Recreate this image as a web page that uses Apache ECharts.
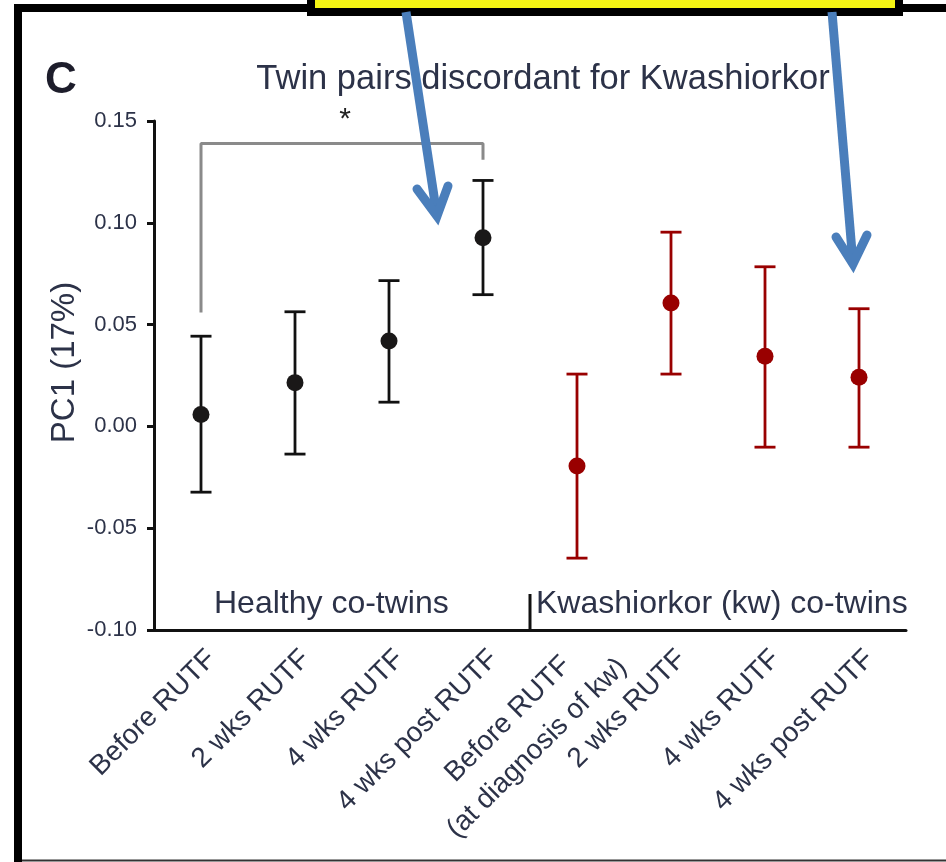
<!DOCTYPE html>
<html><head><meta charset="utf-8">
<script src="https://cdn.jsdelivr.net/npm/echarts/dist/echarts.min.js"></script>
<style>html,body{margin:0;padding:0;background:#fff}#c{width:946px;height:862px}</style>
</head><body><div id="c"></div>
<script>
// ---- data ----
const categories = ['Before RUTF', '2 wks RUTF', '4 wks RUTF', '4 wks post RUTF',
  'Before RUTF\n(at diagnosis of kw)', '2 wks RUTF', '4 wks RUTF', '4 wks post RUTF'];
const healthyIdx = [0, 1, 2, 3];
const healthyMean = [0.0058, 0.0215, 0.0419, 0.0927];
const healthyLow = [-0.0323, -0.0136, 0.0119, 0.0647];
const healthyHigh = [0.0443, 0.0563, 0.0716, 0.1208];
const kwIdx = [4, 5, 6, 7];
const kwMean = [-0.0195, 0.0606, 0.0345, 0.0241];
const kwLow = [-0.0647, 0.0257, -0.0102, -0.0102];
const kwHigh = [0.0257, 0.0954, 0.0784, 0.0578];
const yTickLabels = ['-0.10', '-0.05', '0.00', '0.05', '0.10', '0.15'];
const groupLabels = ['Healthy co-twins', 'Kwashiorkor (kw) co-twins'];
const titleText = 'Twin pairs discordant for Kwashiorkor';
const yName = 'PC1 (17%)';
const panelLetter = 'C';
const sigMark = '*';
const bracketX = [0, 3];
const bracketY = [0.056, 0.139, 0.131];

// ---- styles ----
const TXT = '#2c3248';
const FONT = 'Liberation Sans, Arial, sans-serif';
const BLACK = '#111111';
const RED = '#990000';

function errRender(color) {
  return function (params, api) {
    const x = api.value(0), lo = api.value(1), hi = api.value(2);
    const pLo = api.coord([x, lo]), pHi = api.coord([x, hi]);
    const hw = 10.5;
    const style = { stroke: color, lineWidth: 2.8, fill: null };
    return { type: 'group', children: [
      { type: 'line', shape: { x1: pLo[0], y1: pLo[1], x2: pHi[0], y2: pHi[1] }, style },
      { type: 'line', shape: { x1: pLo[0] - hw, y1: pLo[1], x2: pLo[0] + hw, y2: pLo[1] }, style },
      { type: 'line', shape: { x1: pHi[0] - hw, y1: pHi[1], x2: pHi[0] + hw, y2: pHi[1] }, style }
    ]};
  };
}

const xData = categories.map(c => c.indexOf('\n') >= 0
  ? { value: c, textStyle: { align: 'center', verticalAlign: 'middle', padding: [50, 204, 0, 0] } }
  : c);

const chart = echarts.init(document.getElementById('c'), null, { renderer: 'canvas' });
const option = {
  animation: false,
  backgroundColor: '#ffffff',
  grid: { left: 154, right: 40, top: 121, bottom: 232, outerBoundsMode: 'none', containLabel: false },
  xAxis: {
    type: 'category',
    data: xData,
    boundaryGap: true,
    axisLine: { onZero: false, lineStyle: { color: BLACK, width: 3 } },
    axisTick: { alignWithLabel: true, length: 7, lineStyle: { color: BLACK, width: 3 } },
    axisLabel: {
      interval: 0, rotate: 45, margin: 14, verticalAlign: 'top',
      color: TXT, fontFamily: FONT, fontSize: 28,
      formatter: function (v) {
        const parts = v.split('\n');
        const key = parts.length > 1 ? 'd' : 'c';
        return parts.map(s => '{' + key + '|' + s + '}').join('\n');
      },
      rich: {
        c: { align: 'center', fontFamily: FONT, fontSize: 28, color: TXT, lineHeight: 30 },
        d: { align: 'center', fontFamily: FONT, fontSize: 28, color: TXT, lineHeight: 41 }
      }
    },
    splitLine: { show: false }
  },
  yAxis: {
    type: 'value', min: -0.10, max: 0.15, interval: 0.05,
    name: yName, nameLocation: 'middle', nameGap: 73, nameRotate: 90, nameMoveOverlap: false,
    nameTextStyle: { color: TXT, fontFamily: FONT, fontSize: 33, padding: [0, 0, 0, 26] },
    axisLine: { show: true, onZero: false, lineStyle: { color: BLACK, width: 3 } },
    axisTick: { show: true, length: 7, lineStyle: { color: BLACK, width: 3 } },
    axisLabel: {
      margin: 17, color: TXT, fontFamily: FONT, fontSize: 22,
      formatter: function (v) { const i = Math.round((v + 0.10) / 0.05); return yTickLabels[i]; }
    },
    splitLine: { show: false }
  },
  series: [
    {
      type: 'line', name: 'bracket', silent: true, symbol: 'none', clip: false,
      lineStyle: { color: '#8a8a8a', width: 3 },
      data: [[bracketX[0], bracketY[0]], [bracketX[0], bracketY[1]], [bracketX[1], bracketY[1]], [bracketX[1], bracketY[2]]],
      z: 1
    },
    {
      type: 'custom', name: 'healthy err', renderItem: errRender(BLACK),
      encode: { x: 0, y: [1, 2] },
      data: healthyIdx.map((x, i) => [x, healthyLow[i], healthyHigh[i]]), z: 2
    },
    {
      type: 'custom', name: 'kw err', renderItem: errRender(RED),
      encode: { x: 0, y: [1, 2] },
      data: kwIdx.map((x, i) => [x, kwLow[i], kwHigh[i]]), z: 2
    },
    {
      type: 'scatter', name: 'healthy', symbol: 'circle', symbolSize: 17,
      itemStyle: { color: '#1a1818', opacity: 1 },
      data: healthyIdx.map((x, i) => [x, healthyMean[i]]), z: 3
    },
    {
      type: 'scatter', name: 'kw', symbol: 'circle', symbolSize: 17,
      itemStyle: { color: RED, opacity: 1 },
      data: kwIdx.map((x, i) => [x, kwMean[i]]), z: 3
    }
  ]
};
chart.setOption(option);

// annotations positioned from the axes
const xp = i => chart.convertToPixel({ xAxisIndex: 0 }, i);
const yp = v => chart.convertToPixel({ yAxisIndex: 0 }, v);
const axisY = yp(-0.10);
const divX = (xp(3) + xp(4)) / 2;
const blue = '#4a7ebb';
chart.setOption({
  graphic: [
    // outer frame
    { type: 'rect', shape: { x: 14, y: 4, width: 8, height: 862 }, style: { fill: '#000' }, z: 10 },
    { type: 'rect', shape: { x: 14, y: 4, width: 300, height: 8 }, style: { fill: '#000' }, z: 10 },
    { type: 'rect', shape: { x: 900, y: 4, width: 46, height: 8 }, style: { fill: '#000' }, z: 10 },
    { type: 'line', shape: { x1: 22, y1: 860.5, x2: 946, y2: 860.5 }, style: { stroke: '#333', lineWidth: 2 }, z: 10 },
    { type: 'rect', shape: { x: 307, y: 0, width: 596, height: 16 }, style: { fill: '#000' }, z: 10 },
    { type: 'rect', shape: { x: 315, y: 0, width: 580, height: 8 }, style: { fill: '#f5f514' }, z: 11 },
    // panel letter and title
    { type: 'text', x: 61, y: 81, style: { text: panelLetter, font: 'bold 44px ' + FONT, fill: '#1d1d2b', align: 'center', verticalAlign: 'middle' }, z: 10 },
    { type: 'text', x: 543, y: 79, style: { text: titleText, font: '34.5px ' + FONT, fill: TXT, align: 'center', verticalAlign: 'middle' }, z: 10 },
    // significance star
    { type: 'text', x: (xp(1) + xp(2)) / 2 + 3, y: yp(0.139) - 24, style: { text: sigMark, font: '30px ' + FONT, fill: '#222', align: 'center', verticalAlign: 'middle' }, z: 10 },
    // group divider and labels
    { type: 'line', shape: { x1: divX, y1: axisY - 36, x2: divX, y2: axisY }, style: { stroke: BLACK, lineWidth: 3 }, z: 10 },
    { type: 'text', x: xp(0) + 13, y: axisY - 26, style: { text: groupLabels[0], font: '32px ' + FONT, fill: TXT, align: 'left', verticalAlign: 'middle' }, z: 10 },
    { type: 'text', x: divX + 6, y: axisY - 26, style: { text: groupLabels[1], font: '32px ' + FONT, fill: TXT, align: 'left', verticalAlign: 'middle' }, z: 10 },
    // arrows
    { type: 'polyline', shape: { points: [[406, 12], [437, 216]] }, style: { stroke: blue, lineWidth: 9, lineCap: 'butt' }, z: 20 },
    { type: 'polyline', shape: { points: [[417, 189], [437, 216], [448, 186]] }, style: { stroke: blue, lineWidth: 9, lineCap: 'round', lineJoin: 'miter', fill: null }, z: 20 },
    { type: 'polyline', shape: { points: [[832, 12], [853, 264]] }, style: { stroke: blue, lineWidth: 9, lineCap: 'butt' }, z: 20 },
    { type: 'polyline', shape: { points: [[836, 237], [853, 264], [867, 235]] }, style: { stroke: blue, lineWidth: 9, lineCap: 'round', lineJoin: 'miter', fill: null }, z: 20 }
  ]
});
</script></body></html>
